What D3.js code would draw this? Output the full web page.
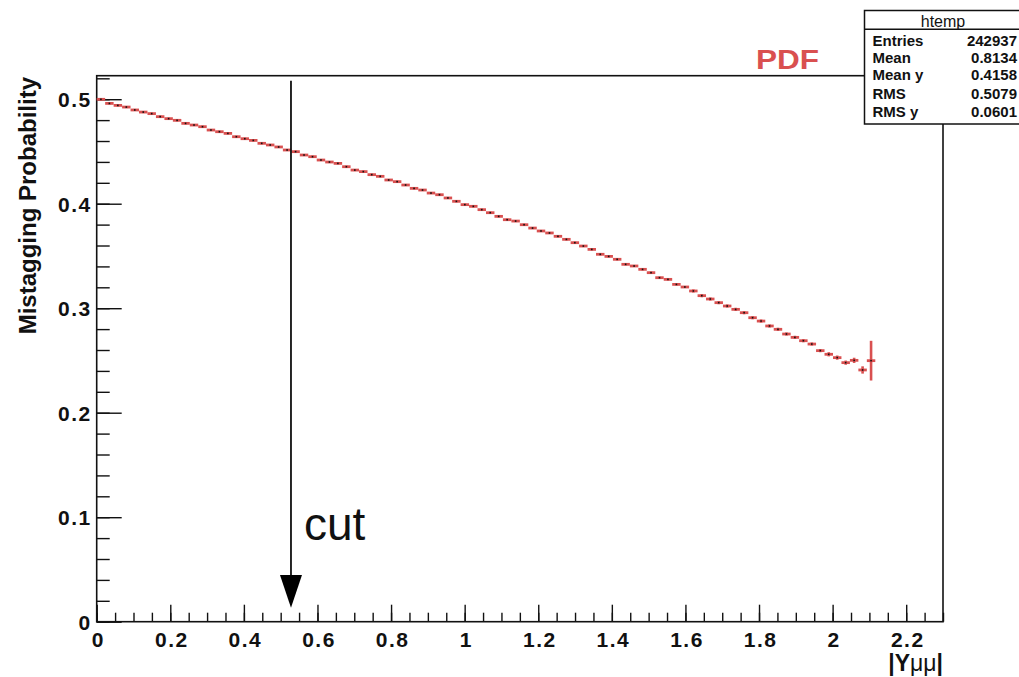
<!DOCTYPE html>
<html>
<head>
<meta charset="utf-8">
<script src="https://cdn.jsdelivr.net/npm/d3@7"></script>
<style>
  body { margin: 0; background: #fff; }
  svg { display: block; font-family: "Liberation Sans", Arial, sans-serif; }
</style>
</head>
<body>
<svg id="chart" width="1019" height="677"></svg>
<script>
// histogram htemp: 100 bins on [0, 2.3], filled bins only (profile values)
const nBins = 100;
const xMin = 0, xMax = 2.3;
const binValues = [
  0.4999, 0.4960, 0.4941, 0.4925, 0.4897, 0.4877, 0.4862, 0.4833, 0.4814, 0.4798,
  0.4769, 0.4753, 0.4737, 0.4705, 0.4689, 0.4673, 0.4641, 0.4622, 0.4606, 0.4578,
  0.4562, 0.4543, 0.4514, 0.4498, 0.4466, 0.4450, 0.4418, 0.4399, 0.4386, 0.4354,
  0.4322, 0.4307, 0.4278, 0.4262, 0.4227, 0.4211, 0.4179, 0.4147, 0.4131, 0.4102,
  0.4086, 0.4055, 0.4023, 0.3991, 0.3975, 0.3943, 0.3914, 0.3879, 0.3847, 0.3834,
  0.3799, 0.3767, 0.3739, 0.3720, 0.3688, 0.3659, 0.3627, 0.3595, 0.3563, 0.3516,
  0.3496, 0.3468, 0.3420, 0.3404, 0.3372, 0.3340, 0.3292, 0.3276, 0.3228, 0.3203,
  0.3165, 0.3120, 0.3088, 0.3053, 0.3021, 0.2989, 0.2957, 0.2909, 0.2877, 0.2830,
  0.2798, 0.2753, 0.2721, 0.2689, 0.2657, 0.2594, 0.2559, 0.2527, 0.2479, 0.2501,
  0.2409, 0.2498
];
const binErrors = [
  0.001, 0.001, 0.001, 0.001, 0.001, 0.001, 0.001, 0.001, 0.001, 0.001,
  0.001, 0.001, 0.001, 0.001, 0.001, 0.001, 0.001, 0.001, 0.001, 0.001,
  0.001, 0.001, 0.001, 0.001, 0.001, 0.001, 0.001, 0.001, 0.001, 0.001,
  0.001, 0.001, 0.001, 0.001, 0.001, 0.001, 0.001, 0.001, 0.001, 0.001,
  0.001, 0.001, 0.001, 0.001, 0.001, 0.001, 0.001, 0.001, 0.001, 0.001,
  0.001, 0.001, 0.001, 0.001, 0.001, 0.001, 0.001, 0.001, 0.001, 0.001,
  0.001, 0.001, 0.001, 0.001, 0.001, 0.001, 0.001, 0.001, 0.001, 0.001,
  0.0015, 0.0015, 0.0015, 0.0015, 0.0015, 0.0015, 0.0015, 0.0015, 0.0015, 0.0015,
  0.0015, 0.0015, 0.0015, 0.0015, 0.0015, 0.0015, 0.002, 0.002, 0.002, 0.0025,
  0.0035, 0.019
];

const xTicks = [0, 0.2, 0.4, 0.6, 0.8, 1, 1.2, 1.4, 1.6, 1.8, 2, 2.2];
const xTickLabels = ["0", "0.2", "0.4", "0.6", "0.8", "1", "1.2", "1.4", "1.6", "1.8", "2", "2.2"];
const yTicks = [0, 0.1, 0.2, 0.3, 0.4, 0.5];
const yTickLabels = ["0", "0.1", "0.2", "0.3", "0.4", "0.5"];

const statNames = ["Entries", "Mean", "Mean y", "RMS", "RMS y"];
const statValues = ["242937", "0.8134", "0.4158", "0.5079", "0.0601"];

const cutValue = 0.528;

const red = "#d95050";
const svg = d3.select("#chart");

const x = d3.scaleLinear().domain([xMin, xMax]).range([96.7, 943]);
const y = d3.scaleLinear().domain([0, 0.5225]).range([621.7, 75.7]);

const binWidth = (xMax - xMin) / nBins;
const bins = binValues.map((v, i) => ({
  lo: xMin + i * binWidth,
  hi: xMin + (i + 1) * binWidth,
  c: xMin + (i + 0.5) * binWidth,
  v: v,
  e: binErrors[i]
}));

// minor ticks
const xMinor = d3.range(0, 2.3001, 0.05);
const yMinor = d3.range(0, 0.5225, 0.02);

svg.append("g")
    .attr("transform", "translate(0," + y(0) + ")")
  .call(d3.axisBottom(x).tickValues(xMinor).tickSize(-9).tickFormat(""))
  .call(g => g.select(".domain").remove());

svg.append("g")
    .attr("transform", "translate(" + x(0) + ",0)")
  .call(d3.axisLeft(y).tickValues(yMinor).tickSize(-13).tickFormat(""))
  .call(g => g.select(".domain").remove());

// major ticks + labels
const xAxis = svg.append("g")
    .attr("transform", "translate(0," + y(0) + ")")
  .call(d3.axisBottom(x).tickValues(xTicks).tickSize(-17).tickFormat((d, i) => xTickLabels[i]));
xAxis.select(".domain").remove();
xAxis.selectAll("text")
    .attr("y", 25.6)
    .attr("dy", null)
    .attr("dx", "0.05em")
    .style("font-size", "21px")
    .style("font-weight", "bold")
    .style("letter-spacing", "1.5px")
    .attr("fill", "#111");

const yAxis = svg.append("g")
    .attr("transform", "translate(" + x(0) + ",0)")
  .call(d3.axisLeft(y).tickValues(yTicks).tickSize(-25).tickFormat((d, i) => yTickLabels[i]));
yAxis.select(".domain").remove();
yAxis.selectAll("text")
    .attr("x", -5)
    .attr("dy", "0.36em")
    .style("font-size", "21px")
    .style("font-weight", "bold")
    .style("letter-spacing", "1.5px")
    .attr("fill", "#111");

svg.selectAll(".tick line").attr("stroke", "#111").attr("stroke-width", 1.4);

// frame
svg.append("rect")
    .attr("x", x(xMin))
    .attr("y", y(0.5225))
    .attr("width", x(xMax) - x(xMin))
    .attr("height", y(0) - y(0.5225))
    .attr("fill", "none")
    .attr("stroke", "#111")
    .attr("stroke-width", 1.6);

// axis titles
svg.append("text")
    .attr("transform", "translate(36,77) rotate(-90)")
    .attr("text-anchor", "end")
    .style("font-size", "24px")
    .style("font-weight", "bold")
    .attr("fill", "#111")
    .text("Mistagging Probability");

const xTitle = svg.append("text")
    .attr("x", 943)
    .attr("y", 671)
    .attr("text-anchor", "end")
    .style("font-size", "23px")
    .attr("fill", "#111");
xTitle.append("tspan").style("font-weight", "bold").text("|Y");
xTitle.append("tspan").text("\u03bc\u03bc");
xTitle.append("tspan").style("font-weight", "bold").text("|");

// profile bins
const binG = svg.append("g");
binG.selectAll("line.bar")
  .data(bins)
  .enter()
  .append("line")
    .attr("class", "bar")
    .attr("x1", d => x(d.lo))
    .attr("x2", d => x(d.hi))
    .attr("y1", d => y(d.v))
    .attr("y2", d => y(d.v))
    .attr("stroke", red)
    .attr("stroke-width", 2.8);

binG.selectAll("line.err")
  .data(bins)
  .enter()
  .append("line")
    .attr("class", "err")
    .attr("x1", d => x(d.c))
    .attr("x2", d => x(d.c))
    .attr("y1", d => y(d.v - d.e))
    .attr("y2", d => y(d.v + d.e))
    .attr("stroke", red)
    .attr("stroke-width", 2.6);

binG.selectAll("rect.dot")
  .data(bins)
  .enter()
  .append("rect")
    .attr("class", "dot")
    .attr("x", d => x(d.c) - 0.8)
    .attr("y", d => y(d.v) - 0.8)
    .attr("width", 1.6)
    .attr("height", 1.6)
    .attr("fill", "#111");

// cut arrow
const cx = x(cutValue);
svg.append("line")
    .attr("x1", cx)
    .attr("x2", cx)
    .attr("y1", 80.7)
    .attr("y2", 577)
    .attr("stroke", "#111")
    .attr("stroke-width", 1.8);
svg.append("path")
    .attr("d", "M" + (cx - 11) + ",575 L" + (cx + 11) + ",575 L" + cx + ",607.7 Z")
    .attr("fill", "#000");

svg.append("text")
    .attr("x", 304)
    .attr("y", 540)
    .style("font-size", "46px")
    .attr("fill", "#111")
    .text("cut");

svg.append("text")
    .attr("x", 756)
    .attr("y", 68.5)
    .attr("textLength", 63)
    .attr("lengthAdjust", "spacingAndGlyphs")
    .style("font-size", "27px")
    .style("font-weight", "bold")
    .attr("fill", red)
    .text("PDF");

// stats box
const box = svg.append("g");
box.append("rect")
    .attr("x", 864.5)
    .attr("y", 10.5)
    .attr("width", 170)
    .attr("height", 113.5)
    .attr("fill", "#fff")
    .attr("stroke", "#111")
    .attr("stroke-width", 1.5);
box.append("line")
    .attr("x1", 864.5).attr("x2", 1019)
    .attr("y1", 29.3).attr("y2", 29.3)
    .attr("stroke", "#111")
    .attr("stroke-width", 1.5);
box.append("text")
    .attr("x", 943)
    .attr("y", 26.5)
    .attr("text-anchor", "middle")
    .style("font-size", "16px")
    .attr("fill", "#111")
    .text("htemp");

const rowY = [45.7, 63.3, 80, 99.3, 116.7];
box.selectAll("text.name")
  .data(statNames)
  .enter()
  .append("text")
    .attr("class", "name")
    .attr("x", 872.5)
    .attr("y", (d, i) => rowY[i])
    .style("font-size", "15px")
    .style("font-weight", "bold")
    .attr("fill", "#111")
    .text(d => d);
box.selectAll("text.val")
  .data(statValues)
  .enter()
  .append("text")
    .attr("class", "val")
    .attr("x", 1017)
    .attr("y", (d, i) => rowY[i])
    .attr("text-anchor", "end")
    .style("font-size", "15px")
    .style("font-weight", "bold")
    .attr("fill", "#111")
    .text(d => d);
</script>
</body>
</html>
